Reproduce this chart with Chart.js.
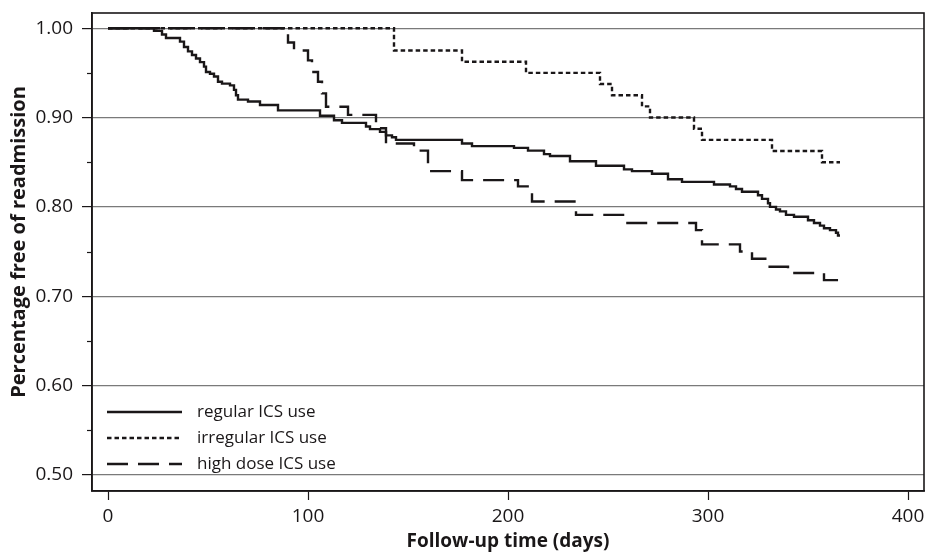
<!DOCTYPE html>
<html>
<head>
<meta charset="utf-8">
<script src="https://cdn.jsdelivr.net/npm/chart.js@4/dist/chart.umd.min.js"></script>
<style>
	body { margin: 0; background: #fff; }
	#km { display: block; }
</style>
</head>
<body>
<canvas id="km" width="928" height="555"></canvas>
<script>
	// survival (fraction free of readmission), step times in days
	const regularDays = [0, 23, 27, 29, 36, 38, 40, 42, 44, 46, 48, 49, 51, 53, 55, 57, 61, 63, 64, 65, 70, 76, 85, 106, 113, 117, 129, 131, 136, 139, 142, 144, 177, 182, 203, 210, 218, 221, 231, 244, 258, 262, 272, 280, 287, 303, 311, 314, 317, 325, 327, 330, 331, 334, 336, 339, 343, 350, 353, 356, 358, 361, 364, 365, 366];
	const regularSurv = [1.000, 0.997, 0.993, 0.989, 0.985, 0.979, 0.974, 0.970, 0.966, 0.962, 0.957, 0.951, 0.949, 0.946, 0.940, 0.938, 0.936, 0.931, 0.925, 0.920, 0.918, 0.914, 0.908, 0.902, 0.897, 0.894, 0.890, 0.887, 0.884, 0.880, 0.878, 0.875, 0.871, 0.868, 0.866, 0.863, 0.859, 0.857, 0.851, 0.846, 0.842, 0.840, 0.837, 0.831, 0.828, 0.825, 0.823, 0.820, 0.817, 0.813, 0.809, 0.804, 0.800, 0.797, 0.795, 0.791, 0.789, 0.785, 0.782, 0.779, 0.776, 0.774, 0.771, 0.768, 0.768];

	const irregularDays = [0, 143, 177, 209, 246, 252, 267, 271, 293, 297, 332, 357, 366];
	const irregularSurv = [1.000, 0.975, 0.9625, 0.950, 0.9375, 0.925, 0.9125, 0.900, 0.8875, 0.875, 0.8625, 0.850, 0.850];

	const highDays = [0, 90, 93, 100, 102, 105, 107, 109, 120, 134, 139, 153, 160, 177, 205, 212, 234, 259, 294, 297, 316, 322, 330, 340, 358, 366];
	const highSurv = [1.000, 0.984, 0.975, 0.964, 0.951, 0.940, 0.927, 0.912, 0.903, 0.888, 0.871, 0.863, 0.840, 0.830, 0.823, 0.806, 0.791, 0.782, 0.774, 0.758, 0.750, 0.742, 0.733, 0.726, 0.718, 0.718];

	const seriesLabels = ["regular ICS use", "irregular ICS use", "high dose ICS use"];
	const xTicks = [0, 100, 200, 300, 400];
	const yMajor = [0.50, 0.60, 0.70, 0.80, 0.90, 1.00];
	const yMinor = [0.55, 0.65, 0.75, 0.85, 0.95];
	const yTitle = "Percentage free of readmission";
	const xTitle = "Follow-up time (days)";

	const ink = "#1a1718";
	const fontFamily = "'Open Sans', 'Noto Sans', sans-serif";

	const toPoints = (days, surv) => days.map((d, i) => ({ x: d, y: surv[i] }));
	const isMajor = (v) => yMajor.some(m => Math.abs(m - v) < 1e-6);

	// box around the plot area, short minor ticks and the y title
	const framePlugin = {
		id: "frame",
		afterDraw(chart) {
			const { ctx, chartArea: a, scales } = chart;
			ctx.save();
			ctx.strokeStyle = ink;
			ctx.lineWidth = 1.6;
			ctx.strokeRect(a.left, a.top, a.right - a.left, a.bottom - a.top);
			ctx.lineWidth = 1.2;
			yMinor.forEach(v => {
				const y = Math.round(scales.y.getPixelForValue(v)) + 0.5;
				ctx.beginPath();
				ctx.moveTo(a.left - 5, y);
				ctx.lineTo(a.left, y);
				ctx.stroke();
			});
			ctx.translate(19, 242);
			ctx.rotate(-Math.PI / 2);
			ctx.font = "bold 20px " + fontFamily;
			ctx.fillStyle = ink;
			ctx.textAlign = "center";
			ctx.textBaseline = "middle";
			ctx.fillText(yTitle, 0, 0);
			ctx.restore();
		}
	};

	// legend drawn inside the plot, lower left
	const insideLegend = {
		id: "insideLegend",
		afterDatasetsDraw(chart) {
			const { ctx, chartArea: a } = chart;
			const x0 = a.left + 15;
			const x1 = a.left + 90;
			ctx.save();
			ctx.font = "17px " + fontFamily;
			ctx.fillStyle = ink;
			ctx.textBaseline = "middle";
			chart.data.datasets.forEach((ds, i) => {
				const y = a.bottom - 79 + i * 26;
				ctx.strokeStyle = ink;
				ctx.lineWidth = ds.borderWidth;
				ctx.setLineDash(ds.borderDash || []);
				ctx.beginPath();
				ctx.moveTo(x0, y);
				ctx.lineTo(x1, y);
				ctx.stroke();
				ctx.setLineDash([]);
				ctx.fillText(ds.label, x1 + 15, y);
			});
			ctx.restore();
		}
	};

	const desenhaGrafico = () => {
		new Chart("km", {
			type: "line",
			data: {
				datasets: [{
					label: seriesLabels[0],
					data: toPoints(regularDays, regularSurv),
					borderColor: ink,
					borderWidth: 2.4,
					borderDash: []
				}, {
					label: seriesLabels[1],
					data: toPoints(irregularDays, irregularSurv),
					borderColor: ink,
					borderWidth: 2.4,
					borderDash: [4.5, 3]
				}, {
					label: seriesLabels[2],
					data: toPoints(highDays, highSurv),
					borderColor: ink,
					borderWidth: 2.4,
					borderDash: [21, 10]
				}]
			},
			options: {
				responsive: false,
				animation: false,
				elements: {
					line: { stepped: true, tension: 0, fill: false },
					point: { radius: 0 }
				},
				layout: { padding: { top: 13, right: 4, left: 0, bottom: 0 } },
				plugins: {
					legend: { display: false },
					tooltip: { enabled: false }
				},
				scales: {
					x: {
						type: "linear",
						min: -8,
						max: 408,
						afterBuildTicks: (s) => { s.ticks = xTicks.map(v => ({ value: v })); },
						afterFit: (s) => {
							s.height = 64;
							s.paddingLeft = 0;
							s.paddingRight = 0;
						},
						grid: { drawOnChartArea: false, tickLength: 9, tickColor: ink, tickWidth: 1.2 },
						border: { color: ink, width: 1.6 },
						ticks: { color: ink, padding: 5, maxRotation: 0, font: { family: fontFamily, size: 19 } },
						title: {
							display: true,
							text: xTitle,
							color: ink,
							padding: { top: 0, bottom: 2 },
							font: { family: fontFamily, size: 19, weight: "bold" }
						}
					},
					y: {
						type: "linear",
						min: 0.482,
						max: 1.017,
						afterBuildTicks: (s) => {
							s.ticks = yMajor.concat(yMinor).sort((a, b) => a - b).map(v => ({ value: v }));
						},
						afterFit: (s) => {
							s.width = 92;
							s.paddingTop = 0;
							s.paddingBottom = 0;
						},
						grid: {
							color: (c) => c.tick && isMajor(c.tick.value) ? "#7a7a7a" : "rgba(0,0,0,0)",
							tickColor: (c) => c.tick && isMajor(c.tick.value) ? ink : "rgba(0,0,0,0)",
							tickLength: 10,
							lineWidth: 1.2
						},
						border: { color: ink, width: 1.6 },
						ticks: {
							color: ink,
							padding: 9,
							font: { family: fontFamily, size: 19 },
							callback: (v) => isMajor(v) ? v.toFixed(2) : ""
						},
						title: { display: false }
					}
				}
			},
			plugins: [framePlugin, insideLegend]
		});
	};

	desenhaGrafico();
</script>
</body>
</html>
